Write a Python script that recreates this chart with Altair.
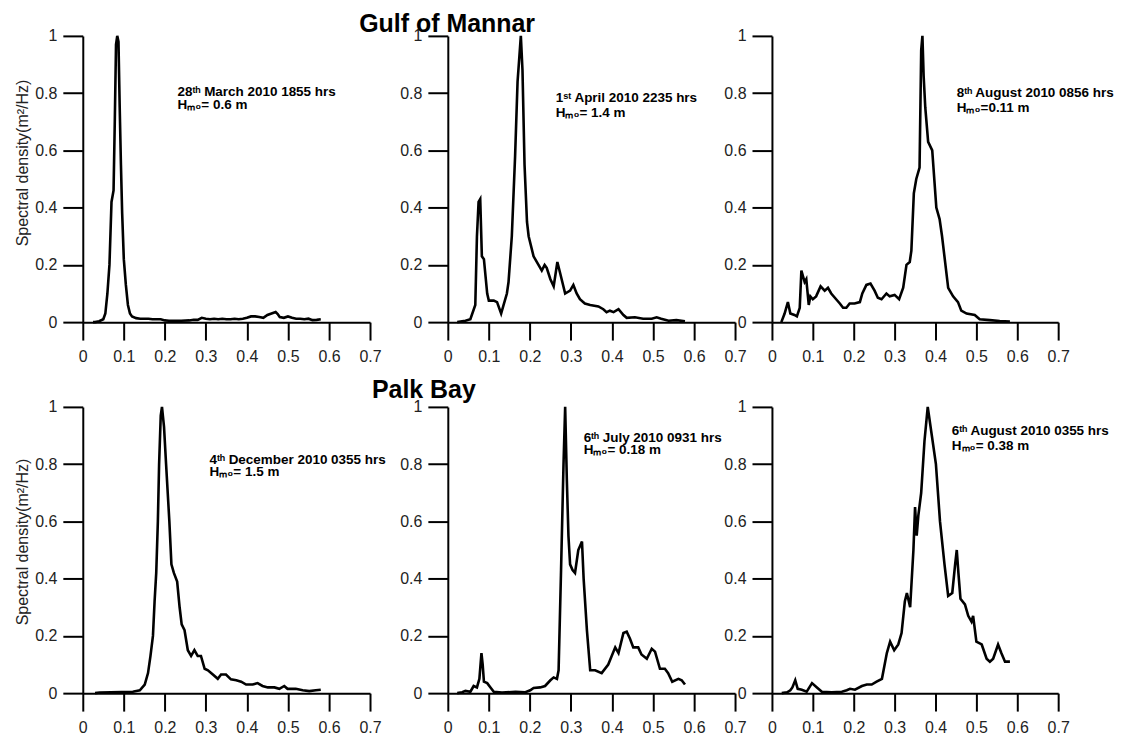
import altair as alt
import pandas as pd

# Axis ticks shared by every panel
x_ticks = [0, 0.1, 0.2, 0.3, 0.4, 0.5, 0.6, 0.7]
y_ticks = [0, 0.2, 0.4, 0.6, 0.8, 1]
y_title = "Spectral density(m²/Hz)"

# Gulf of Mannar, 28 March 2010 1855 hrs
f_gm_mar = [0.025, 0.03, 0.04, 0.05, 0.055, 0.06, 0.065, 0.07, 0.075, 0.078,
            0.081, 0.084, 0.087, 0.09, 0.093, 0.096, 0.1, 0.105, 0.11, 0.115,
            0.12, 0.13, 0.14, 0.15, 0.16, 0.17, 0.18, 0.19, 0.2, 0.21,
            0.22, 0.24, 0.26, 0.27, 0.28, 0.29, 0.3, 0.31, 0.32, 0.33,
            0.34, 0.35, 0.36, 0.37, 0.38, 0.39, 0.4, 0.41, 0.42, 0.43,
            0.44, 0.45, 0.46, 0.47, 0.475, 0.48, 0.49, 0.5, 0.51, 0.52,
            0.53, 0.54, 0.55, 0.56, 0.57, 0.58]
s_gm_mar = [0.0, 0.0, 0.003, 0.01, 0.03, 0.1, 0.2, 0.42, 0.46, 0.7,
            0.97, 1.0, 0.98, 0.75, 0.55, 0.38, 0.22, 0.13, 0.06, 0.03,
            0.02, 0.014, 0.012, 0.012, 0.012, 0.01, 0.01, 0.01, 0.006, 0.005,
            0.005, 0.005, 0.006, 0.008, 0.008, 0.015, 0.012, 0.01, 0.012, 0.01,
            0.012, 0.01, 0.01, 0.012, 0.01, 0.012, 0.015, 0.02, 0.02, 0.018,
            0.015, 0.025, 0.03, 0.035, 0.028, 0.018, 0.015, 0.02, 0.015, 0.012,
            0.012, 0.01, 0.012, 0.007, 0.008, 0.01]

# Gulf of Mannar, 1 April 2010 2235 hrs
f_gm_apr = [0.023, 0.043, 0.055, 0.067, 0.071, 0.075, 0.079, 0.083, 0.088, 0.096,
            0.1, 0.112, 0.12, 0.13, 0.136, 0.144, 0.148, 0.156, 0.164, 0.17,
            0.174, 0.178, 0.182, 0.187, 0.193, 0.197, 0.209, 0.221, 0.229, 0.236,
            0.241, 0.25, 0.258, 0.267, 0.274, 0.286, 0.298, 0.306, 0.314, 0.322,
            0.334, 0.347, 0.367, 0.379, 0.387, 0.395, 0.404, 0.416, 0.428, 0.436,
            0.456, 0.476, 0.497, 0.509, 0.52, 0.538, 0.557, 0.578]
s_gm_apr = [0.0, 0.005, 0.01, 0.06, 0.3, 0.42, 0.43, 0.23, 0.22, 0.1,
            0.075, 0.075, 0.07, 0.03, 0.06, 0.1, 0.14, 0.3, 0.58, 0.84,
            0.92, 1.0, 0.88, 0.55, 0.35, 0.3, 0.23, 0.2, 0.18, 0.2,
            0.19, 0.15, 0.125, 0.21, 0.17, 0.1, 0.11, 0.13, 0.1, 0.08,
            0.065, 0.06, 0.055, 0.045, 0.035, 0.04, 0.035, 0.045, 0.025, 0.015,
            0.017, 0.012, 0.012, 0.017, 0.012, 0.005, 0.007, 0.003]

# Gulf of Mannar, 8 August 2010 0856 hrs
f_gm_aug = [0.023, 0.031, 0.039, 0.045, 0.055, 0.061, 0.068, 0.072, 0.076, 0.08,
            0.084, 0.09, 0.094, 0.1, 0.108, 0.119, 0.129, 0.137, 0.145, 0.157,
            0.166, 0.174, 0.182, 0.19, 0.202, 0.215, 0.221, 0.231, 0.241, 0.251,
            0.259, 0.268, 0.28, 0.288, 0.3, 0.311, 0.321, 0.329, 0.337, 0.341,
            0.347, 0.353, 0.361, 0.365, 0.368, 0.371, 0.375, 0.382, 0.392, 0.402,
            0.41, 0.416, 0.431, 0.443, 0.455, 0.463, 0.476, 0.496, 0.508, 0.533,
            0.557, 0.582]
s_gm_aug = [0.0, 0.03, 0.07, 0.03, 0.025, 0.02, 0.05, 0.18, 0.16, 0.14,
            0.15, 0.06, 0.09, 0.08, 0.09, 0.125, 0.11, 0.12, 0.1, 0.08,
            0.065, 0.05, 0.05, 0.065, 0.065, 0.07, 0.1, 0.13, 0.135, 0.11,
            0.085, 0.08, 0.1, 0.09, 0.095, 0.08, 0.12, 0.2, 0.21, 0.25,
            0.45, 0.5, 0.54, 0.95, 1.0, 0.86, 0.75, 0.63, 0.6, 0.4,
            0.36, 0.3, 0.12, 0.09, 0.07, 0.04, 0.03, 0.025, 0.01, 0.007,
            0.004, 0.002]

# Palk Bay, 4 December 2010 0355 hrs
f_pb_dec = [0.03, 0.041, 0.122, 0.139, 0.151, 0.159, 0.165, 0.171, 0.175, 0.179,
            0.183, 0.186, 0.19, 0.193, 0.198, 0.203, 0.211, 0.216, 0.222, 0.23,
            0.236, 0.241, 0.248, 0.256, 0.264, 0.272, 0.28, 0.288, 0.297, 0.305,
            0.317, 0.329, 0.337, 0.349, 0.361, 0.374, 0.386, 0.398, 0.414, 0.426,
            0.438, 0.451, 0.467, 0.479, 0.491, 0.499, 0.519, 0.536, 0.552, 0.568,
            0.58]
s_pb_dec = [0.0, 0.002, 0.005, 0.01, 0.03, 0.07, 0.13, 0.2, 0.32, 0.42,
            0.6, 0.8, 0.97, 1.0, 0.93, 0.8, 0.6, 0.45, 0.42, 0.39,
            0.3, 0.24, 0.22, 0.15, 0.13, 0.15, 0.13, 0.13, 0.085, 0.08,
            0.065, 0.05, 0.065, 0.065, 0.048, 0.045, 0.04, 0.03, 0.03, 0.035,
            0.025, 0.02, 0.02, 0.015, 0.025, 0.015, 0.015, 0.01, 0.007, 0.01,
            0.012]

# Palk Bay, 6 July 2010 0931 hrs
f_pb_jul = [0.023, 0.035, 0.043, 0.055, 0.063, 0.071, 0.077, 0.082, 0.085, 0.088,
            0.096, 0.104, 0.112, 0.132, 0.165, 0.189, 0.201, 0.209, 0.225, 0.237,
            0.25, 0.258, 0.266, 0.27, 0.276, 0.282, 0.286, 0.29, 0.294, 0.298,
            0.304, 0.31, 0.318, 0.327, 0.331, 0.339, 0.347, 0.359, 0.375, 0.391,
            0.408, 0.416, 0.428, 0.436, 0.444, 0.452, 0.464, 0.472, 0.485, 0.497,
            0.505, 0.517, 0.529, 0.537, 0.547, 0.562, 0.57, 0.578]
s_pb_jul = [0.0, 0.003, 0.008, 0.005, 0.025, 0.02, 0.05, 0.14, 0.1, 0.04,
            0.035, 0.02, 0.005, 0.002, 0.005, 0.003, 0.01, 0.018, 0.02, 0.025,
            0.045, 0.055, 0.05, 0.08, 0.43, 0.8, 1.0, 0.75, 0.55, 0.45,
            0.43, 0.42, 0.5, 0.53, 0.4, 0.22, 0.08, 0.08, 0.07, 0.1,
            0.16, 0.14, 0.21, 0.215, 0.19, 0.16, 0.16, 0.135, 0.12, 0.155,
            0.145, 0.085, 0.085, 0.07, 0.04, 0.05, 0.045, 0.03]

# Palk Bay, 6 August 2010 0355 hrs
f_pb_aug = [0.024, 0.037, 0.045, 0.05, 0.057, 0.063, 0.073, 0.085, 0.098, 0.11,
            0.122, 0.146, 0.171, 0.183, 0.191, 0.203, 0.22, 0.232, 0.244, 0.256,
            0.269, 0.281, 0.289, 0.299, 0.309, 0.317, 0.325, 0.33, 0.338, 0.346,
            0.35, 0.354, 0.358, 0.365, 0.373, 0.381, 0.391, 0.401, 0.411, 0.422,
            0.431, 0.441, 0.448, 0.452, 0.456, 0.461, 0.472, 0.48, 0.488, 0.492,
            0.5, 0.513, 0.525, 0.533, 0.541, 0.553, 0.561, 0.57, 0.582]
s_pb_aug = [0.0, 0.003, 0.01, 0.02, 0.045, 0.015, 0.012, 0.005, 0.035, 0.02,
            0.005, 0.003, 0.005, 0.01, 0.015, 0.012, 0.025, 0.03, 0.03, 0.04,
            0.05, 0.14, 0.18, 0.15, 0.17, 0.21, 0.32, 0.35, 0.3, 0.5,
            0.65, 0.55, 0.62, 0.7, 0.88, 1.0, 0.9, 0.8, 0.6, 0.45,
            0.34, 0.35, 0.45, 0.5, 0.42, 0.33, 0.31, 0.27, 0.25, 0.27,
            0.18, 0.17, 0.12, 0.11, 0.12, 0.17, 0.14, 0.11, 0.11]

# Record notes: text lines, and their anchor in data units (frequency, density)
notes = [
    (["28ᵗʰ March 2010 1855 hrs", "Hₘ₀= 0.6 m"], 0.231, [0.805, 0.76]),
    (["1ˢᵗ April 2010  2235 hrs", "Hₘ₀= 1.4 m"], 0.263, [0.784, 0.732]),
    (["8ᵗʰ August 2010  0856 hrs", "Hₘ₀=0.11 m"], 0.452, [0.801, 0.749]),
    (["4ᵗʰ December 2010 0355 hrs", "Hₘ₀= 1.5 m"], 0.309, [0.815, 0.772]),
    (["6ᵗʰ July  2010 0931 hrs", "Hₘ₀= 0.18 m"], 0.331, [0.892, 0.85]),
    (["6ᵗʰ August 2010 0355 hrs", "Hₘ₀= 0.38 m"], 0.44, [0.916, 0.862]),
]

series = [
    (f_gm_mar, s_gm_mar), (f_gm_apr, s_gm_apr), (f_gm_aug, s_gm_aug),
    (f_pb_dec, s_pb_dec), (f_pb_jul, s_pb_jul), (f_pb_aug, s_pb_aug),
]

# Region headings, drawn in the middle panel of each row (data units)
region_titles = {
    1: ("Gulf of Mannar", -0.216, 1.014),
    4: ("Palk Bay", -0.185, 1.031),
}

# Column layout: first column is wider than its x range so the gaps differ
view_widths = [329, 288, 287]
range_widths = [288, 288, 287]
plot_height = 287

x_label_expr = "datum.value == 0 ? '0' : format(datum.value, '.1f')"
y_label_expr = ("datum.value == 0 ? '0' : datum.value == 1 ? '1' : "
                "format(datum.value, '.1f')")


def make_panel(i):
    col = i % 3
    freq, dens = series[i]
    lines, nx, ny = notes[i]
    df = pd.DataFrame({"f": freq, "s": dens})
    note_df = pd.DataFrame({"f": [nx, nx], "s": ny, "label": lines})

    x_enc = alt.X(
        "f:Q",
        scale=alt.Scale(domain=[0, 0.7], range=[0, range_widths[col]], nice=False, zero=False),
        axis=alt.Axis(values=x_ticks, title=None, tickSize=18, labelPadding=8,
                      labelExpr=x_label_expr, labelFlush=False, labelOverlap=False),
    )
    y_axis_args = dict(values=y_ticks, tickSize=20, labelPadding=6,
                       labelExpr=y_label_expr, labelFlush=False, labelOverlap=False)
    if col == 0:
        y_axis_args.update(title=y_title, titlePadding=4,
                           titleY=127 if i == 0 else 135)
    else:
        y_axis_args.update(title=None)
    y_enc = alt.Y("s:Q", scale=alt.Scale(domain=[0, 1], nice=False, zero=False),
                  axis=alt.Axis(**y_axis_args))

    curve = alt.Chart(df).mark_line(color="black", strokeWidth=2.6).encode(x=x_enc, y=y_enc)
    text = alt.Chart(note_df).mark_text(
        align="left", baseline="middle", font="Liberation Sans",
        fontWeight="bold", fontSize=13.5, color="black",
    ).encode(x="f:Q", y="s:Q", text="label:N")
    layers = [curve, text]

    if i in region_titles:
        txt, tx, ty = region_titles[i]
        head_df = pd.DataFrame({"f": [tx], "s": [ty], "label": [txt]})
        head = alt.Chart(head_df).mark_text(
            align="left", baseline="alphabetic", font="Liberation Sans",
            fontWeight="bold", fontSize=25, color="black",
        ).encode(x="f:Q", y="s:Q", text="label:N")
        layers.append(head)

    return alt.layer(*layers).properties(width=view_widths[col], height=plot_height)


panels = [make_panel(i) for i in range(6)]

chart = alt.concat(
    *panels, columns=3, bounds="flush", spacing={"row": 85, "column": 37}
).properties(
    padding={"left": 14, "top": 10, "right": 5, "bottom": 5},
    background="white",
).configure_view(
    stroke=None
).configure_axis(
    grid=False,
    domainColor="black", domainWidth=2,
    tickColor="black", tickWidth=2,
    labelColor="#222", labelFont="Liberation Sans", labelFontSize=16,
    titleColor="#222", titleFont="Liberation Sans", titleFontSize=16,
    titleFontWeight="normal",
)

chart.save("out.html", embed_options={"renderer": "svg", "actions": False})
